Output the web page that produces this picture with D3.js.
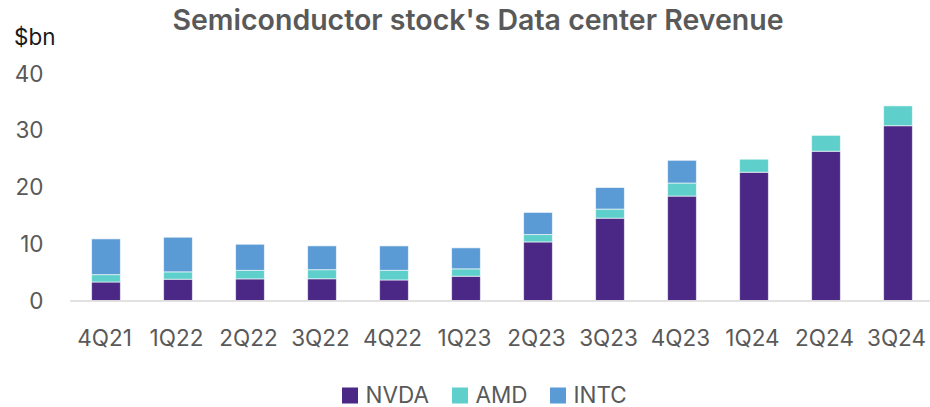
<!DOCTYPE html>
<html><head><meta charset="utf-8">
<script src="https://cdn.jsdelivr.net/npm/d3@7"></script>
<style>body{margin:0;background:#fff;} svg{display:block;font-family:Inter, "Noto Sans", sans-serif;}</style>
</head><body><svg id="c" width="930" height="407"></svg>
<script>
const quarters = ["4Q21","1Q22","2Q22","3Q22","4Q22","1Q23","2Q23","3Q23","4Q23","1Q24","2Q24","3Q24"];
const nvda = [3.26,3.75,3.81,3.83,3.62,4.28,10.32,14.51,18.40,22.60,26.30,30.80];
const amd  = [1.30,1.30,1.50,1.60,1.70,1.30,1.30,1.60,2.30,2.30,2.80,3.50];
const intc = [6.30,6.10,4.60,4.20,4.30,3.70,3.90,3.80,4.00,0,0,0];
const seriesNames = ["NVDA","AMD","INTC"];
const seriesColors = ["#4B2885","#5ECFCB","#5B9BD5"];
const yTicks = [0,10,20,30,40];

const svg = d3.select("#c");
const x = d3.scaleBand().domain(quarters).range([70,934]).paddingInner(0.6).paddingOuter(0.3);
const y = d3.scaleLinear().domain([0,40]).range([300.5,73.5]);

const rows = quarters.map((q,i)=>({q, NVDA:nvda[i], AMD:amd[i], INTC:intc[i]}));
const stack = d3.stack().keys(seriesNames)(rows);

svg.append("text").attr("x",478).attr("y",30).attr("text-anchor","middle")
  .attr("font-size",28.5).attr("font-weight",600).attr("fill","#595959")
  .text("Semiconductor stock's Data center Revenue");

svg.append("text").attr("x",14).attr("y",45).attr("font-size",22.5).attr("fill","#1a1a1a")
  .text("$bn");

// y tick labels
svg.append("g").selectAll("text").data(yTicks).join("text")
  .attr("x",43.5).attr("y",d=>y(d)+8).attr("text-anchor","end")
  .attr("font-size",22.5).attr("fill","#595959").text(d=>d);

// bars
svg.append("g").selectAll("g").data(stack).join("g")
  .attr("fill",(d,i)=>seriesColors[i])
  .selectAll("rect").data(d=>d.filter(p=>p[1]-p[0]>0)).join("rect")
  .attr("x",d=>x(d.data.q)).attr("width",x.bandwidth())
  .attr("y",d=>y(d[1])).attr("height",d=>y(d[0])-y(d[1]))
  .attr("stroke","#ffffff").attr("stroke-opacity",0.6).attr("stroke-width",1);

// baseline
svg.append("line").attr("x1",70).attr("x2",930).attr("y1",y(0)+0.5).attr("y2",y(0)+0.5)
  .attr("stroke","#d9d9d9").attr("stroke-width",1.5);

// x labels
svg.append("g").selectAll("text").data(quarters).join("text")
  .attr("x",d=>x(d)+x.bandwidth()/2 - 1.5).attr("y",345.5).attr("text-anchor","middle")
  .attr("font-size",22.5).attr("fill","#595959").text(d=>d);

// legend
const lx = [342,452,550];
const lg = svg.append("g").selectAll("g").data(seriesNames).join("g")
  .attr("transform",(d,i)=>`translate(${lx[i]},0)`);
lg.append("rect").attr("x",0).attr("y",387.5).attr("width",16).attr("height",16)
  .attr("fill",(d,i)=>seriesColors[i]);
lg.append("text").attr("x",23.5).attr("y",403).attr("font-size",22.5).attr("fill","#595959").text(d=>d);
</script></body></html>
